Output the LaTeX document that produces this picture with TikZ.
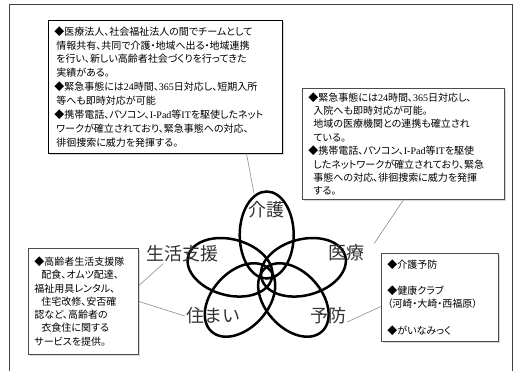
\documentclass[tikz,border=0pt]{standalone}
\usepackage{fontspec}
\setmainfont{Noto Sans CJK JP}[RawFeature=+palt]
\newfontfamily\labfont{Noto Sans CJK JP}
\newfontfamily\tm{Liberation Serif}
\usetikzlibrary{calc,shadows}
\begin{document}
\begin{tikzpicture}[x=1pt,y=-1pt,
  petal/.style={draw=black, line width=2.5pt},
  lab/.style={font=\labfont\fontsize{18}{18}\selectfont, text=black!80, inner sep=1pt},
  box/.style={draw=black!70, line width=0.9pt, fill=white, anchor=north west, align=left,
    inner xsep=6pt, inner ysep=0pt,
    drop shadow={shadow xshift=2pt, shadow yshift=-2pt, fill=black!25, opacity=0.6}},
  conn/.style={draw=black!45, line width=0.6pt},
  frame/.style={draw=black!75, line width=1pt}]
\useasboundingbox (0,0) rectangle (514,371);
\fill[white] (0,0) rectangle (514,371);
\draw[frame] (9,371) -- (9,5) -- (512,5) -- (512,371);

% boxes
\node[box, draw=black, line width=0.7pt, text width=222pt, minimum height=133pt,
  font=\fontsize{10}{13.9}\selectfont] (b1) at (48,20) {%
◆医療法人、社会福祉法人の間でチームとして\\
\hspace*{2pt}情報共有、共同で介護・地域へ出る・地域連携\\
\hspace*{2pt}を行い、新しい高齢者社会づくりを行ってきた\\
\hspace*{2pt}実績がある。\\
◆緊急事態には{\tm 24}時間、{\tm 365}日対応し、短期入所\\
\hspace*{2pt}等へも即時対応が可能\\
◆携帯電話、パソコン、{\tm I-Pad}等{\tm IT}を駆使したネット\\
\hspace*{2pt}ワークが確立されており、緊急事態への対応、\\
\hspace*{2pt}徘徊捜索に威力を発揮する。};

\node[box, text width=190pt, minimum height=111pt,
  font=\fontsize{10}{13.4}\selectfont] (b2) at (302,88) {%
◆緊急事態には{\tm 24}時間、{\tm 365}日対応し、\\
\hspace*{5pt}入院へも即時対応が可能。\\
\hspace*{5pt}地域の医療機関との連携も確立され\\
\hspace*{5pt}ている。\\
◆携帯電話、パソコン、{\tm I-Pad}等{\tm IT}を駆使\\
\hspace*{5pt}したネットワークが確立されており、緊急\\
\hspace*{5pt}事態への対応、徘徊捜索に威力を発揮\\
\hspace*{5pt}する。};

\node[box, text width=98pt, minimum height=106pt,
  font=\fontsize{10}{13.3}\selectfont] (b3) at (28,248) {%
◆高齢者生活支援隊\\
\hspace*{7pt}配食、オムツ配達、\\
福祉用具レンタル、\\
\hspace*{7pt}住宅改修、安否確\\
認など、高齢者の\\
\hspace*{7pt}衣食住に関する\\
サービスを提供。};

\node[box, text width=105pt, minimum height=88pt,
  font=\fontsize{10}{13.2}\selectfont] (b4) at (381,253) {%
◆介護予防\\[13.2pt]
◆健康クラブ\\
（河崎・大崎・西福原）\\[13.2pt]
◆がいなみっく};

% petals
\draw[petal] (266.7,235) ellipse [x radius=27, y radius=43.5];
\draw[petal] (230,267.3) ellipse [x radius=43.3, y radius=28, rotate=-15];
\draw[petal] (303.4,267.3) ellipse [x radius=43.3, y radius=28, rotate=15];
\draw[petal] (240,300) ellipse [x radius=42.5, y radius=28, rotate=48];
\draw[petal] (293.4,300) ellipse [x radius=42.5, y radius=28, rotate=-48];

% labels
\node[lab] (l1) at (266,210) {介護};
\node[lab] (l2) at (182,254) {生活支援};
\node[lab] (l3) at (346,253) {医療};
\node[lab] (l4) at (213,316) {住まい};
\node[lab] (l5) at (328,316) {予防};

% connectors
\draw[conn] ($(b1.south west)!0.846!(b1.south east)$) -- ($(l1.north west)+(7,-8)$);
\draw[conn] ($(b2.south west)!0.5!(b2.south east)$) -- ($(l3.north east)+(9,0)$);
\draw[conn] ($(b3.east)+(0,-16)$) -- ($(l2.south west)!0.25!(l2.south east)$);
\draw[conn] (b3.east) -- (l4.west);
\draw[conn] ($(b4.west)+(0,9)$) -- ($(l5.east)+(0,6)$);
\end{tikzpicture}
\end{document}
